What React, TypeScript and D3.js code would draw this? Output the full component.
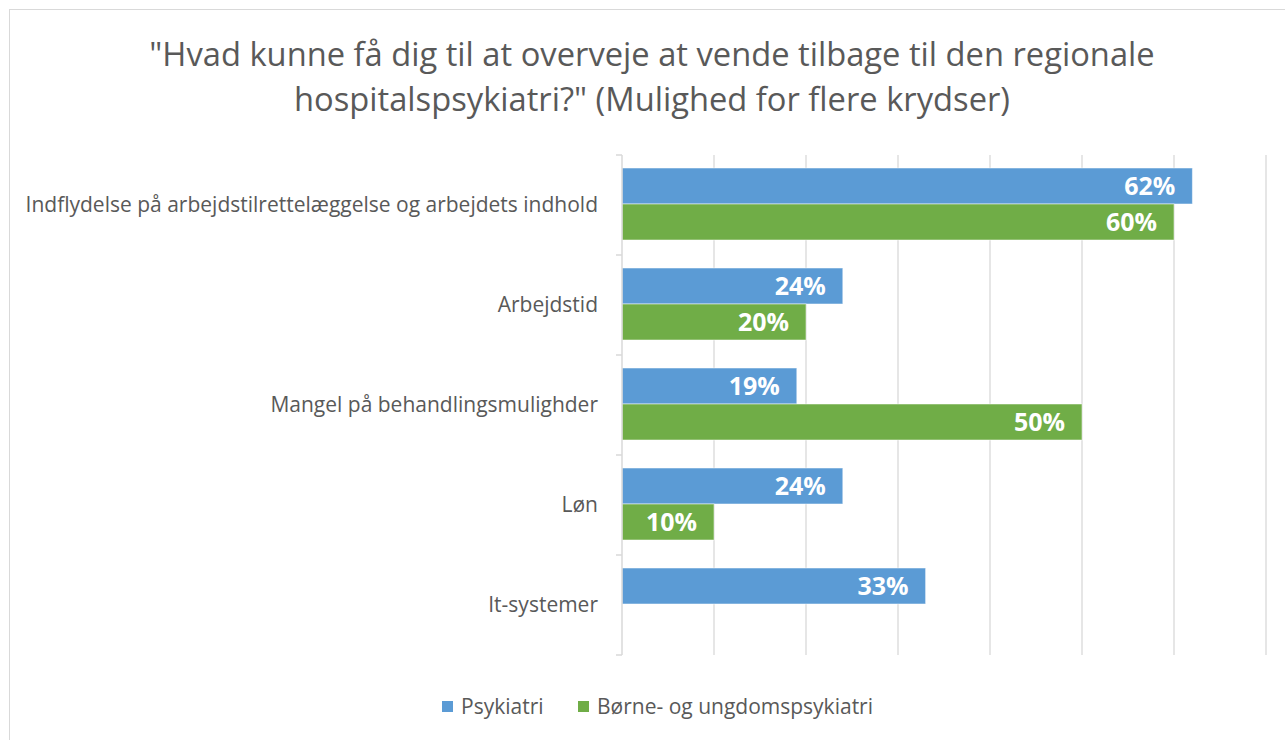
import React from "react";
import * as d3 from "d3";

const categories = [
  "Indflydelse på arbejdstilrettelæggelse og arbejdets indhold",
  "Arbejdstid",
  "Mangel på behandlingsmulighder",
  "Løn",
  "It-systemer",
];
const psykiatri = [62, 24, 19, 24, 33];
const boerne: (number | null)[] = [60, 20, 50, 10, null];
const seriesNames = ["Psykiatri", "Børne- og ungdomspsykiatri"];
const xTicks = [0, 10, 20, 30, 40, 50, 60, 70];
const titleLines = [
  "\"Hvad kunne få dig til at overveje at vende tilbage til den regionale",
  "hospitalspsykiatri?\" (Mulighed for flere krydser)",
];

const W = 1285;
const H = 740;
const font = "'Open Sans', sans-serif";
const blue = "#5B9BD5";
const green = "#70AD47";

export default function App() {
  const x = d3.scaleLinear().domain([0, 70]).range([622, 1266]);
  const y = d3.scaleBand().domain(categories).range([155, 655]);
  const inner = d3.scaleBand().domain(["a", "b"]).range([13, 85]);
  const series = [psykiatri, boerne];
  const colors = [blue, green];
  const yBand = (i: number) => 155 + i * y.step();
  return (
    <svg width={W} height={H} style={{ position: "absolute", left: 0, top: 0 }}>
      <rect x={0} y={0} width={W} height={H} fill="#fff" />
      <rect x={9.5} y={9.5} width={W + 10} height={H + 10} fill="#fff" stroke="#d9d9d9" strokeWidth={1} />
      {titleLines.map((t, i) => (
        <text key={i} x={652} y={66 + i * 45} textAnchor="middle" fontFamily={font} fontSize={32.7} fill="#595959">
          {t}
        </text>
      ))}
      {xTicks.slice(1).map((t) => (
        <line key={t} x1={x(t)} x2={x(t)} y1={155} y2={655} stroke="#d9d9d9" strokeWidth={1.3} />
      ))}
      {categories.map((c, i) =>
        series.map((s, j) => {
          const v = s[i];
          if (v == null) return null;
          const by = yBand(i) + (inner(j === 0 ? "a" : "b") as number);
          const bh = inner.bandwidth();
          return (
            <g key={c + j}>
              <rect x={x(0)} y={by} width={x(v) - x(0)} height={bh} fill={colors[j]} stroke="#fff" strokeOpacity={0.5} strokeWidth={1} />
              <text x={x(v) - 17} y={by + bh / 2} dy="0.36em" textAnchor="end" fontFamily={font} fontSize={25} fontWeight={700} fill="#fff">
                {v}%
              </text>
            </g>
          );
        })
      )}
      <line x1={x(0)} x2={x(0)} y1={155} y2={655} stroke="#d9d9d9" strokeWidth={1.5} />
      {d3.range(categories.length + 1).map((i) => (
        <line key={i} x1={616} x2={x(0)} y1={yBand(i)} y2={yBand(i)} stroke="#d9d9d9" strokeWidth={1.5} />
      ))}
      {categories.map((c, i) => (
        <text key={c} x={598} y={yBand(i) + 50} dy="0.35em" textAnchor="end" fontFamily={font} fontSize={21} fill="#595959">
          {c}
        </text>
      ))}
      <g>
        <rect x={442} y={701} width={11} height={11} fill={blue} />
        <text x={461} y={706} dy="0.36em" fontFamily={font} fontSize={21} fill="#595959">{seriesNames[0]}</text>
        <rect x={578} y={701} width={11} height={11} fill={green} />
        <text x={597} y={706} dy="0.36em" fontFamily={font} fontSize={21} fill="#595959">{seriesNames[1]}</text>
      </g>
    </svg>
  );
}
